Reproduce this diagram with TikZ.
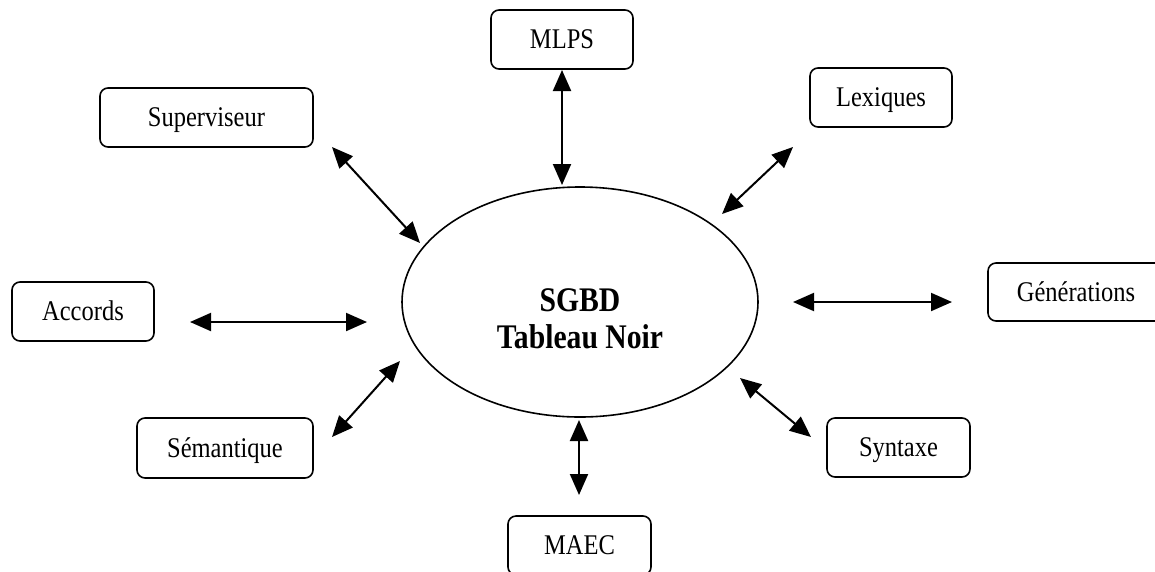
\documentclass[tikz,border=0pt]{standalone}
\usepackage{fontspec}
\setmainfont{Liberation Serif}[FakeStretch=0.86]
\usetikzlibrary{shapes.geometric,arrows.meta}

\begin{document}
\begin{tikzpicture}[x=1pt,y=-1pt,
  module/.style={draw, line width=1.6pt, rounded corners=8pt,
    minimum width=142pt, minimum height=59pt, inner sep=0pt,
    font=\fontsize{28.5}{30}\selectfont, text height=18.9pt, text depth=0pt},
  core/.style={draw, ellipse, line width=1.6pt, minimum width=356pt,
    minimum height=230pt, inner sep=0pt},
  title/.style={font=\fontsize{34.5}{36}\selectfont\bfseries, inner sep=0pt, anchor=base},
  link/.style={line width=2pt, {Triangle[length=21pt,width=18pt]}-{Triangle[length=21pt,width=18pt]}}
]
\useasboundingbox (0,0) rectangle (1155,571);
\clip (0,0) rectangle (1155,571);

% central blackboard database
\node[core] (bb) at (580,302) {};
\node[title] (t1) at (580,311) {SGBD};
\node[title] (t2) at (580,348) {Tableau Noir};

% surrounding modules
\node[module] (mlps) at (562,39.5) {MLPS};
\node[module] (lex) at (881,97.5) {Lexiques};
\node[module, minimum width=213pt] (sup) at (206.5,117.5) {Superviseur};
\node[module] (acc) at (83,311.5) {Accords};
\node[module, minimum width=176pt, minimum height=58pt] (gen) at (1076,292) {Générations};
\node[module, minimum width=176pt, minimum height=60pt] (sem) at (225,448) {Sémantique};
\node[module, minimum width=143pt] (syn) at (898.5,447.5) {Syntaxe};
\node[module, minimum width=143pt] (maec) at (579.5,545.5) {MAEC};

% arrow end points
\coordinate (mlpsA) at (562,70);   \coordinate (mlpsB) at (562,185);
\coordinate (lexA) at (793,147);   \coordinate (lexB) at (722,214);
\coordinate (supA) at (332,147);   \coordinate (supB) at (420,243);
\coordinate (accA) at (190,322);   \coordinate (accB) at (367,322);
\coordinate (genA) at (793,302);   \coordinate (genB) at (952,302);
\coordinate (semA) at (332,437);   \coordinate (semB) at (400,361);
\coordinate (synA) at (740,378);   \coordinate (synB) at (811,437);
\coordinate (maecA) at (579,420);  \coordinate (maecB) at (579,495);

% two-way exchanges with the blackboard
\draw[link] (mlpsA) -- (mlpsB);
\draw[link] (lexA) -- (lexB);
\draw[link] (supA) -- (supB);
\draw[link] (accA) -- (accB);
\draw[link] (genA) -- (genB);
\draw[link] (semA) -- (semB);
\draw[link] (synA) -- (synB);
\draw[link] (maecA) -- (maecB);
\end{tikzpicture}
\end{document}
